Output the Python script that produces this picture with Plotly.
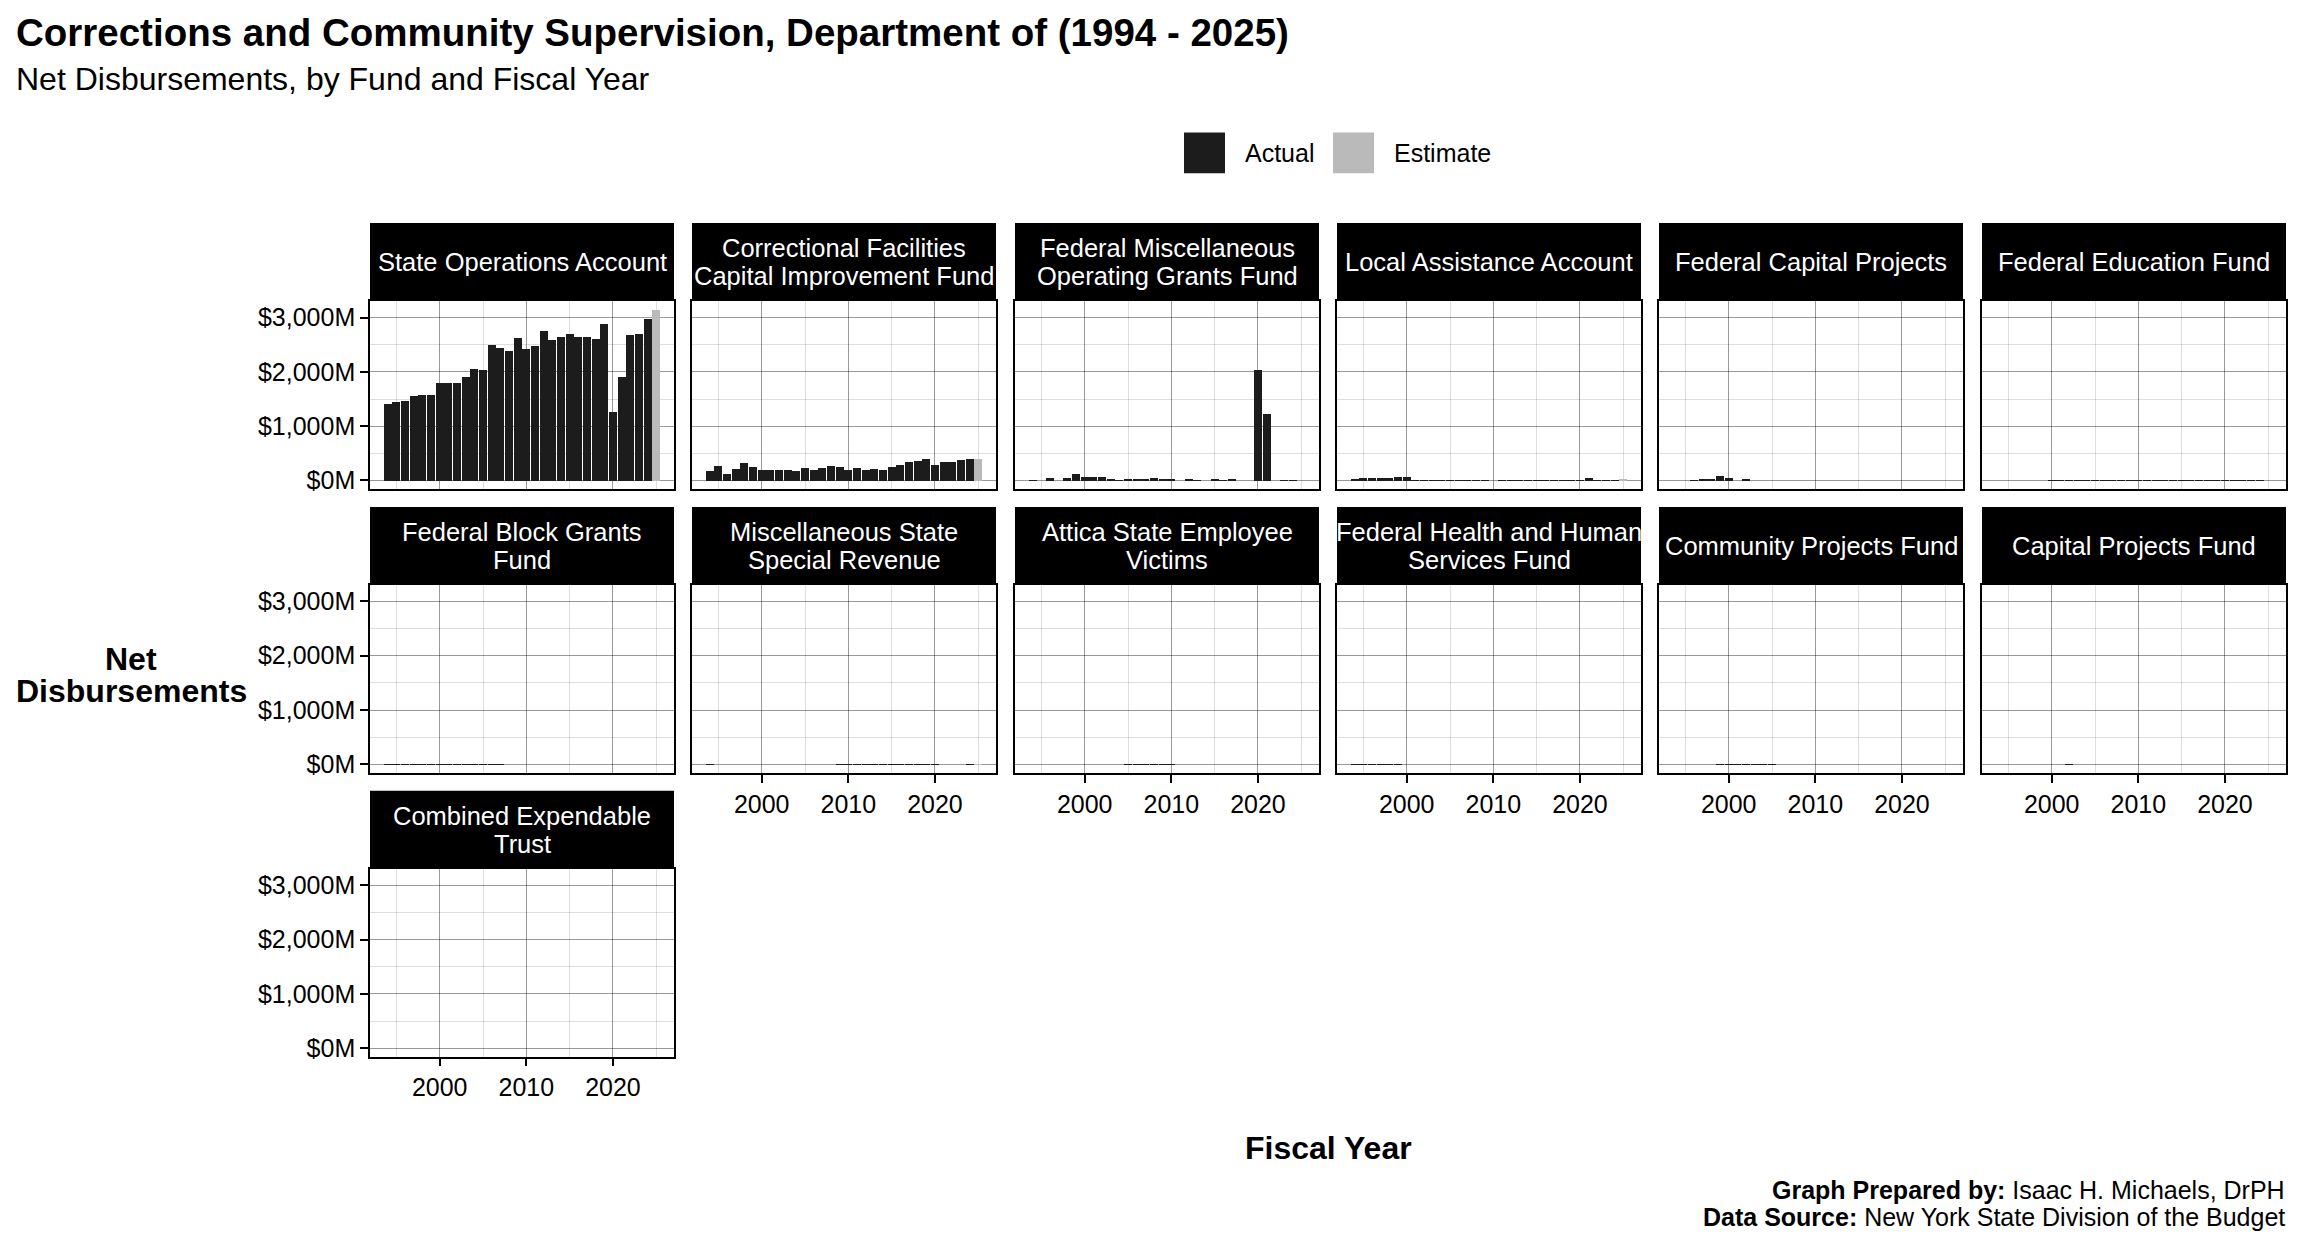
import plotly.graph_objects as go

W, H = 2304, 1248

years = list(range(1994, 2026))
estimate_year = 2025

fund_labels = [
    ["State Operations Account"],
    ["Correctional Facilities", "Capital Improvement Fund"],
    ["Federal Miscellaneous", "Operating Grants Fund"],
    ["Local Assistance Account"],
    ["Federal Capital Projects"],
    ["Federal Education Fund"],
    ["Federal Block Grants", "Fund"],
    ["Miscellaneous State", "Special Revenue"],
    ["Attica State Employee", "Victims"],
    ["Federal Health and Human", "Services Fund"],
    ["Community Projects Fund"],
    ["Capital Projects Fund"],
    ["Combined Expendable", "Trust"],
]

# Net disbursements, $ millions, fiscal years 1994..2025 (2025 = estimate)
state_ops = [1406, 1442, 1461, 1552, 1570, 1570, 1806, 1806, 1806, 1915, 2061, 2042,
             2497, 2442, 2388, 2624, 2424, 2479, 2752, 2588, 2642, 2697, 2642, 2642,
             2606, 2879, 1261, 1915, 2679, 2697, 2970, 3152]
corr_fac = [182, 279, 115, 224, 333, 261, 206, 206, 188, 188, 170, 242,
            206, 242, 279, 261, 206, 242, 188, 224, 206, 261, 297, 352,
            370, 406, 297, 352, 352, 388, 406, 406]
fed_misc = [10, None, 50, None, 50, 120, 75, 75, 70, 30, 12, 30,
            30, 30, 50, 18, 30, None, 30, 12, None, 30, 12, 30,
            None, None, 2042, 1224, None, 12, 12, None]
local_assist = [30, 50, 50, 50, 50, 75, 75, 12, 12, 12, 3, 12,
                12, 12, 3, 3, None, 12, 12, 12, 12, 12, 12, 12,
                3, 12, 12, 50, 12, 12, 12, 25]
fed_cap = [None, None, 3, 30, 30, 84, 48, None, 30, None, None, None,
           None, None, None, None, None, None, None, None, None, None, None, None,
           None, None, None, None, None, None, None, None]
fed_edu = [None, None, None, None, None, None, 3, 3, 3, 3, 3, 3,
           3, 3, 3, 3, 3, 12, 3, 3, 3, 3, 3, 3,
           3, 3, 3, 3, 3, 3, 3, None]
fed_block = [5, 5, 5, 5, 5, 5, 5, 8, 8, 8, 5, 5,
             3, 3, None, None, None, None, None, None, None, None, None, None,
             None, None, None, None, None, None, None, None]
misc_ssr = [5, None, None, None, None, None, None, None, None, None, None, None,
            None, None, None, 4, 4, 4, 4, 4, 4, 4, 4, 4,
            4, 4, 4, None, None, None, 2, 2]
attica = [None, None, None, None, None, None, None, None, None, None, None, 4,
          4, 4, 4, 4, 4, None, None, None, None, None, None, None,
          None, None, None, None, None, None, None, None]
fed_hhs = [4, 4, 4, 4, 4, 4, None, None, None, None, None, None,
           None, None, None, None, None, None, None, None, None, None, None, None,
           None, None, None, None, None, None, None, None]
community = [None, None, None, None, None, 2, 2, 2, 2, 2, 2, 2,
             None, None, None, None, None, None, None, None, None, None, None, None,
             None, None, None, None, None, None, None, None]
capital = [None, None, None, None, None, None, None, None, 4, None, None, None,
           None, None, None, None, None, None, None, None, None, None, None, None,
           None, None, None, None, None, None, None, None]
combined = [None] * 32

fund_values = [state_ops, corr_fac, fed_misc, local_assist, fed_cap, fed_edu,
               fed_block, misc_ssr, attica, fed_hhs, community, capital, combined]

y_ticks = [0, 1000, 2000, 3000]
y_tick_text = ["$0M", "$1,000M", "$2,000M", "$3,000M"]
y_minor = [500, 1500, 2500]
x_ticks = [2000, 2010, 2020]
x_tick_text = ["2000", "2010", "2020"]
x_minor = [1995, 2005, 2015, 2025]

ACTUAL = "#1c1c1c"
ESTIMATE = "#bababa"
FONT = "Liberation Sans, Arial, Helvetica, sans-serif"

col_x = [370, 692, 1015, 1337, 1659, 1982]
panel_w = 304
row_strip_top = [224, 509, 794]
strip_h = 78
panel_h = 189

def px(x):
    return x / W

def py(y):
    return 1 - y / H

fig = go.Figure()
shapes = []
annotations = []
layout_axes = {}

ymax = max(v for vals in fund_values for v in vals if v is not None)
yr = [-0.05 * ymax, 1.05 * ymax]
xr = [1993.55 - 0.05 * 31.9, 2025.45 + 0.05 * 31.9]

bottom_panels = {7, 8, 9, 10, 11, 12}

for i, vals in enumerate(fund_values):
    r, c = divmod(i, 6)
    n = i + 1
    xa = "x" if n == 1 else f"x{n}"
    ya = "y" if n == 1 else f"y{n}"
    ax_x = [yv for yv, v in zip(years, vals) if v is not None and yv != estimate_year]
    ax_y = [v for yv, v in zip(years, vals) if v is not None and yv != estimate_year]
    es_x = [yv for yv, v in zip(years, vals) if v is not None and yv == estimate_year]
    es_y = [v for yv, v in zip(years, vals) if v is not None and yv == estimate_year]
    fig.add_trace(go.Bar(x=ax_x, y=ax_y, width=0.9, marker=dict(color=ACTUAL, line=dict(width=0)),
                         xaxis=xa, yaxis=ya, showlegend=False, name="Actual"))
    fig.add_trace(go.Bar(x=es_x, y=es_y, width=0.9, marker=dict(color=ESTIMATE, line=dict(width=0)),
                         xaxis=xa, yaxis=ya, showlegend=False, name="Estimate"))

    x0 = col_x[c]
    x1 = x0 + panel_w
    st = row_strip_top[r]
    p_top = st + strip_h
    p_bot = p_top + panel_h

    show_x = i in bottom_panels
    show_y = c == 0
    layout_axes["xaxis" if n == 1 else f"xaxis{n}"] = dict(
        domain=[px(x0), px(x1)], anchor=ya, range=xr,
        tickmode="array", tickvals=x_ticks, ticktext=x_tick_text, showticklabels=show_x,
        ticks="outside" if show_x else "", ticklen=8, tickwidth=1.5, tickcolor="black",
        tickfont=dict(family=FONT, size=25, color="black"),
        showgrid=True, gridcolor="rgba(0,0,0,0.40)", gridwidth=1,
        minor=dict(tickmode="array", tickvals=x_minor, showgrid=True,
                   gridcolor="rgba(0,0,0,0.13)", gridwidth=1),
        zeroline=False, showline=True, mirror=True, linecolor="black", linewidth=1.5,
        fixedrange=True,
    )
    layout_axes["yaxis" if n == 1 else f"yaxis{n}"] = dict(
        domain=[py(p_bot), py(p_top)], anchor=xa, range=yr,
        tickmode="array", tickvals=y_ticks, ticktext=y_tick_text, showticklabels=show_y,
        ticks="outside" if show_y else "", ticklen=8, tickwidth=1.5, tickcolor="black",
        tickfont=dict(family=FONT, size=25, color="black"),
        showgrid=True, gridcolor="rgba(0,0,0,0.40)", gridwidth=1,
        minor=dict(tickmode="array", tickvals=y_minor, showgrid=True,
                   gridcolor="rgba(0,0,0,0.13)", gridwidth=1),
        zeroline=False, showline=True, mirror=True, linecolor="black", linewidth=1.5,
        fixedrange=True,
    )

    # facet strip
    shapes.append(dict(type="rect", xref="paper", yref="paper",
                       x0=px(x0), x1=px(x1), y0=py(p_top), y1=py(st),
                       fillcolor="black", line=dict(width=0), layer="above"))
    lines = fund_labels[i]
    if len(lines) == 1:
        ys = [st + strip_h / 2]
    else:
        ys = [st + strip_h / 2 - 14, st + strip_h / 2 + 14]
    for txt, yy in zip(lines, ys):
        annotations.append(dict(text=txt, xref="paper", yref="paper",
                                x=px((x0 + x1) / 2), y=py(yy), xanchor="center", yanchor="middle",
                                showarrow=False, font=dict(family=FONT, size=25.5, color="white")))

# titles
annotations.append(dict(text="<b>Corrections and Community Supervision, Department of (1994 - 2025)</b>",
                        xref="paper", yref="paper", x=px(14), y=py(33), xanchor="left", yanchor="middle",
                        showarrow=False, font=dict(family=FONT, size=38.5, color="black")))
annotations.append(dict(text="Net Disbursements, by Fund and Fiscal Year",
                        xref="paper", yref="paper", x=px(14), y=py(79), xanchor="left", yanchor="middle",
                        showarrow=False, font=dict(family=FONT, size=32, color="black")))

# legend
legend_items = [("Actual", ACTUAL, 1184), ("Estimate", ESTIMATE, 1333)]
for label, color, lx in legend_items:
    shapes.append(dict(type="rect", xref="paper", yref="paper",
                       x0=px(lx), x1=px(lx + 41), y0=py(174), y1=py(133),
                       fillcolor=color, line=dict(width=0)))
    annotations.append(dict(text=label, xref="paper", yref="paper", x=px(lx + 59), y=py(154),
                            xanchor="left", yanchor="middle", showarrow=False,
                            font=dict(family=FONT, size=25, color="black")))

# axis titles
annotations.append(dict(text="<b>Net</b>", xref="paper", yref="paper", x=px(131), y=py(662),
                        xanchor="center", yanchor="middle", showarrow=False,
                        font=dict(family=FONT, size=32, color="black")))
annotations.append(dict(text="<b>Disbursements</b>", xref="paper", yref="paper", x=px(131), y=py(694),
                        xanchor="center", yanchor="middle", showarrow=False,
                        font=dict(family=FONT, size=32, color="black")))
annotations.append(dict(text="<b>Fiscal Year</b>", xref="paper", yref="paper", x=px(1328), y=py(1153),
                        xanchor="center", yanchor="middle", showarrow=False,
                        font=dict(family=FONT, size=32, color="black")))

# caption
annotations.append(dict(text="<b>Graph Prepared by:</b> Isaac H. Michaels, DrPH", xref="paper", yref="paper",
                        x=px(2287), y=py(1195), xanchor="right", yanchor="middle", showarrow=False,
                        font=dict(family=FONT, size=25, color="black")))
annotations.append(dict(text="<b>Data Source:</b> New York State Division of the Budget", xref="paper", yref="paper",
                        x=px(2287), y=py(1222), xanchor="right", yanchor="middle", showarrow=False,
                        font=dict(family=FONT, size=25, color="black")))

fig.update_layout(
    width=W, height=H,
    margin=dict(l=0, r=0, t=0, b=0),
    paper_bgcolor="white", plot_bgcolor="white",
    barmode="overlay", bargap=0,
    showlegend=False,
    shapes=shapes, annotations=annotations,
    font=dict(family=FONT, color="black"),
    **layout_axes,
)

fig.write_html("out.html", config={"displayModeBar": False},
               post_script="document.body.style.margin='0';document.body.style.overflow='hidden';")
